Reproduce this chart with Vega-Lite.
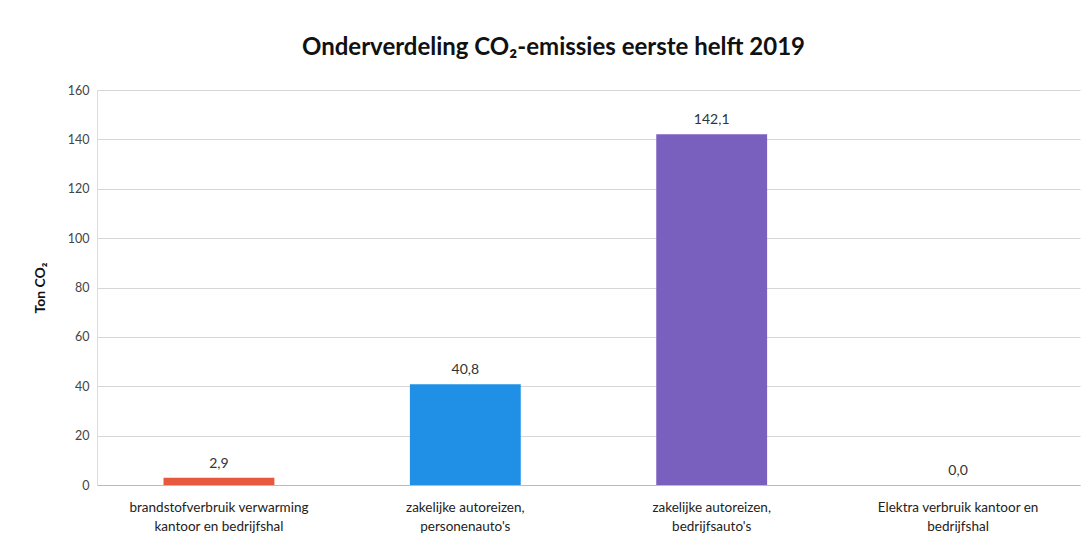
{
  "$schema": "https://vega.github.io/schema/vega-lite/v6.json",
  "width": 983,
  "height": 395,
  "autosize": {"type": "none"},
  "padding": {"left": 97, "top": 90, "right": 11, "bottom": 53},
  "background": "white",
  "config": {
    "font": "Lato",
    "view": {"stroke": null},
    "locale": {"number": {"decimal": ",", "thousands": ".", "grouping": [3], "currency": ["€", ""]}}
  },
  "title": {
    "text": "Onderverdeling CO₂-emissies eerste helft 2019",
    "fontSize": 24,
    "fontWeight": "bold",
    "color": "#111111",
    "anchor": "middle",
    "dx": -35,
    "offset": 24
  },
  "data": {
    "values": [
      {"categorie": "brandstofverbruik verwarming kantoor en bedrijfshal", "ton": 2.9},
      {"categorie": "zakelijke autoreizen, personenauto's", "ton": 40.8},
      {"categorie": "zakelijke autoreizen, bedrijfsauto's", "ton": 142.1},
      {"categorie": "Elektra verbruik kantoor en bedrijfshal", "ton": 0.0}
    ]
  },
  "encoding": {
    "x": {
      "field": "categorie",
      "type": "nominal",
      "sort": null,
      "scale": {"paddingInner": 0.55, "paddingOuter": 0.27},
      "axis": {
        "title": null,
        "labelAngle": 0,
        "labelFontSize": 13.5,
        "labelColor": "#222222",
        "labelPadding": 15,
        "labelLineHeight": 19,
        "ticks": false,
        "domainColor": "#bbbbbb",
        "labelExpr": "datum.value == 'brandstofverbruik verwarming kantoor en bedrijfshal' ? ['brandstofverbruik verwarming', 'kantoor en bedrijfshal'] : datum.value == \"zakelijke autoreizen, personenauto's\" ? ['zakelijke autoreizen,', \"personenauto's\"] : datum.value == \"zakelijke autoreizen, bedrijfsauto's\" ? ['zakelijke autoreizen,', \"bedrijfsauto's\"] : ['Elektra verbruik kantoor en', 'bedrijfshal']"
      }
    },
    "y": {
      "field": "ton",
      "type": "quantitative",
      "scale": {"domain": [0, 160]},
      "axis": {
        "title": "Ton CO₂",
        "titleFontSize": 14,
        "titleFontWeight": "bold",
        "titleColor": "#111111",
        "titlePadding": 20,
        "values": [0, 20, 40, 60, 80, 100, 120, 140, 160],
        "labelFontSize": 12.5,
        "labelColor": "#444444",
        "labelPadding": 8,
        "ticks": false,
        "domain": true,
        "domainColor": "#dddddd",
        "gridColor": "#d6d6d6",
        "format": "d"
      }
    }
  },
  "layer": [
    {
      "mark": {"type": "bar"},
      "encoding": {
        "color": {
          "field": "categorie",
          "type": "nominal",
          "sort": null,
          "legend": null,
          "scale": {
            "domain": [
              "brandstofverbruik verwarming kantoor en bedrijfshal",
              "zakelijke autoreizen, personenauto's",
              "zakelijke autoreizen, bedrijfsauto's",
              "Elektra verbruik kantoor en bedrijfshal"
            ],
            "range": ["#E8583E", "#1F90E6", "#7A60BE", "#A9A9A9"]
          }
        }
      }
    },
    {
      "mark": {"type": "text", "baseline": "bottom", "dy": -7, "fontSize": 14, "color": "#333333"},
      "encoding": {
        "text": {"field": "ton", "type": "quantitative", "format": ".1f"}
      }
    }
  ]
}
